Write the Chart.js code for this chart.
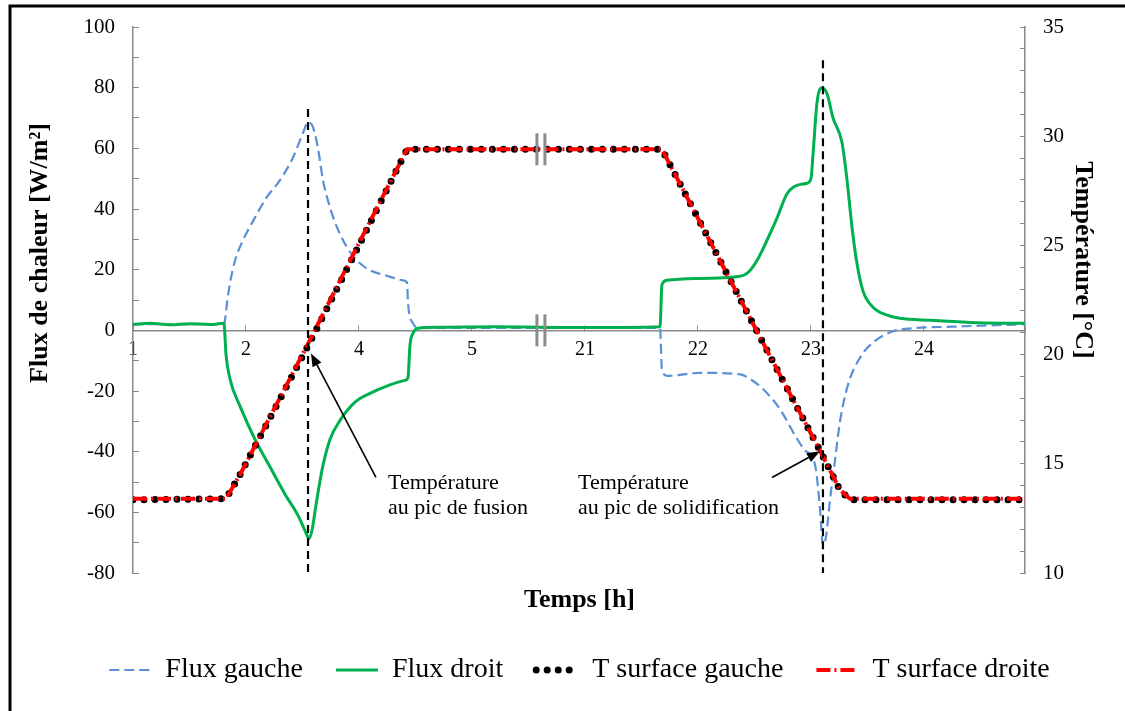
<!DOCTYPE html>
<html lang="fr">
<head>
    <meta charset="UTF-8">
    <title>Flux de chaleur et température de surface</title>
    <script src="https://cdn.jsdelivr.net/npm/chart.js"></script>
    <style>
        html, body { margin: 0; padding: 0; background: #fff; }
    </style>
</head>
<body>

    <canvas id="fluxChart" width="1125" height="711"></canvas>

    <script>
        // Time axis: evenly spaced positions, labelled in hours (break between 5 h and 21 h)
        const tickLabels = ['1', '2', '4', '5', '21', '22', '23', '24'];

        // Flux gauche [W/m2]
        const fluxGaucheT = [0, 0.416, 0.805, 0.814, 0.832, 0.858, 0.903, 0.973, 1.062, 1.186, 1.301, 1.416, 1.504, 1.549,
            1.593, 1.637, 1.681, 1.743, 1.805, 1.894, 1.982, 2.097, 2.248, 2.389, 2.425, 2.434, 2.478, 2.522, 2.805,
            4.664, 4.681, 4.726, 5.018, 5.372, 5.460, 5.593, 5.726, 5.858, 5.947, 6.009, 6.044, 6.080, 6.106, 6.133,
            6.168, 6.212, 6.257, 6.327, 6.434, 6.549, 6.726, 6.903, 7.257, 7.558, 7.894];
        const fluxGaucheV = [2, 2, 2, 3.3, 9, 15.5, 23, 29.7, 36, 44, 49.5, 57, 65, 68.6,
            67, 60, 49.5, 40.6, 34, 27.4, 23, 19.8, 18, 16.5, 15.8, 9, 2.3, 1, 0.8,
            0.8, -13, -15, -14, -14.5, -16, -20, -26, -34.6, -39.6, -41.5, -46, -59, -71, -68,
            -56, -43, -30, -18, -9, -4, -0.3, 0.7, 1.2, 1.6, 2];

        // Flux droit [W/m2]
        const fluxDroitT = [0, 0.150, 0.327, 0.504, 0.681, 0.805, 0.823, 0.858, 0.947, 1.080, 1.212, 1.345, 1.460, 1.522,
            1.558, 1.584, 1.619, 1.673, 1.743, 1.832, 1.965, 2.097, 2.274, 2.407, 2.434, 2.451, 2.478, 2.522, 2.717,
            3.2, 4.0, 4.664, 4.681, 4.726, 5.018, 5.372, 5.442, 5.522, 5.611, 5.699, 5.788, 5.876, 5.965, 6.000,
            6.018, 6.053, 6.097, 6.142, 6.195, 6.274, 6.319, 6.363, 6.407, 6.460, 6.549, 6.673, 6.788, 7.053, 7.407, 7.894];
        const fluxDroitV = [2, 2.3, 1.8, 2.2, 1.9, 2.3, -8, -16, -25, -36, -45, -54, -61, -66,
            -68.6, -66, -57.7, -46, -36, -29.7, -23.7, -20.8, -18, -16.5, -15.5, -5, -1, 0.7, 1,
            1.2, 0.9, 1.2, 15, 16.5, 17.1, 17.8, 19, 23, 29.7, 37, 45, 47.8, 48.5, 50,
            58, 75, 80, 78, 70, 62, 49.5, 34, 22, 13, 7.6, 5, 4, 3.3, 2.6, 2.3];

        // Surface temperatures [°C]
        const surfaceT = [0, 0.823, 0.947, 1.549, 2.009, 2.425, 4.681, 5.549, 6.080, 6.257, 6.345, 7.894];
        const surfaceGaucheV = [13.35, 13.4, 14.5, 20.4, 25.1, 29.4, 29.4, 20.8, 15.6, 13.8, 13.35, 13.35];
        const surfaceDroiteV = [13.4, 13.4, 14.5, 20.5, 25.2, 29.4, 29.4, 20.8, 15.6, 13.8, 13.4, 13.4];

        // Peak markers (position on time axis, top of the dashed line in W/m2)
        const peakPos = [1.549, 6.106];
        const peakTop = [73, 89];

        const serif = "'Liberation Serif', 'Times New Roman', serif";
        const axisGrey = '#8a8a8a';

        function toPoints(xs, ys) {
            return xs.map((x, i) => ({x: x, y: ys[i]}));
        }

        // keep the plot area where the layout puts it: no extra room for the end labels
        function fixWidth(w) {
            return function (scale) {
                scale.width = w;
                scale.paddingTop = 0;
                scale.paddingBottom = 0;
            };
        }

        const annotations = {
            id: 'annotations',
            beforeDraw(chart) {
                const ctx = chart.ctx;
                ctx.save();
                ctx.strokeStyle = '#000';
                ctx.lineWidth = 3;
                ctx.beginPath();
                ctx.moveTo(10, 711);
                ctx.lineTo(10, 6);
                ctx.lineTo(1125, 6);
                ctx.stroke();
                ctx.restore();
            },
            afterDatasetsDraw(chart) {
                const {ctx, chartArea, scales: {x, y, y2}} = chart;
                ctx.save();

                // dashed lines through the melting / solidification peaks
                ctx.strokeStyle = '#000';
                ctx.lineWidth = 2.2;
                ctx.setLineDash([8, 5]);
                peakPos.forEach((p, i) => {
                    const px = x.getPixelForValue(p);
                    ctx.beginPath();
                    ctx.moveTo(px, y.getPixelForValue(peakTop[i]));
                    ctx.lineTo(px, y.getPixelForValue(-80));
                    ctx.stroke();
                });
                ctx.setLineDash([]);

                // axis break marks
                const bx = x.getPixelForValue(3.61);
                ctx.strokeStyle = '#8c8c8c';
                ctx.lineWidth = 3;
                [y2.getPixelForValue(29.4), y.getPixelForValue(0)].forEach(by => {
                    [-4, 4].forEach(dx => {
                        ctx.beginPath();
                        ctx.moveTo(bx + dx, by - 16);
                        ctx.lineTo(bx + dx, by + 16);
                        ctx.stroke();
                    });
                });

                // y axis titles
                const midY = (chartArea.top + chartArea.bottom) / 2;
                ctx.fillStyle = '#000';
                ctx.font = 'bold 26px ' + serif;
                ctx.textAlign = 'center';
                ctx.textBaseline = 'middle';
                ctx.save();
                ctx.translate(chartArea.left - 93, midY - 47);
                ctx.rotate(-Math.PI / 2);
                ctx.fillText('Flux de chaleur [W/m²]', 0, 0);
                ctx.restore();
                ctx.save();
                ctx.translate(chartArea.right + 58, midY - 40);
                ctx.rotate(Math.PI / 2);
                ctx.fillText('Température [°C]', 0, 0);
                ctx.restore();

                // notes with arrows
                const notes = [
                    {lines: ['Température', 'au pic de fusion'], at: [2.257, -50.5], tail: [2.150, -48.5], tip: [1.575, -7.6]},
                    {lines: ['Température', 'au pic de solidification'], at: [3.938, -50.5], tail: [5.655, -48.5], tip: [6.080, -39.9]}
                ];
                ctx.strokeStyle = '#000';
                ctx.lineWidth = 1.6;
                ctx.font = '22px ' + serif;
                ctx.textAlign = 'left';
                notes.forEach(n => {
                    const tx = x.getPixelForValue(n.at[0]);
                    const ty = y.getPixelForValue(n.at[1]);
                    n.lines.forEach((line, k) => ctx.fillText(line, tx, ty + k * 25));

                    const x0 = x.getPixelForValue(n.tail[0]), y0 = y.getPixelForValue(n.tail[1]);
                    const x1 = x.getPixelForValue(n.tip[0]), y1 = y.getPixelForValue(n.tip[1]);
                    const a = Math.atan2(y1 - y0, x1 - x0);
                    const len = 13, half = 5;
                    const bxh = x1 - len * Math.cos(a), byh = y1 - len * Math.sin(a);
                    ctx.beginPath();
                    ctx.moveTo(x0, y0);
                    ctx.lineTo(bxh, byh);
                    ctx.stroke();
                    ctx.beginPath();
                    ctx.moveTo(x1, y1);
                    ctx.lineTo(bxh + half * Math.sin(a), byh - half * Math.cos(a));
                    ctx.lineTo(bxh - half * Math.sin(a), byh + half * Math.cos(a));
                    ctx.closePath();
                    ctx.fill();
                });
                ctx.restore();
            }
        };

        const ctx = document.getElementById('fluxChart').getContext('2d');
        new Chart(ctx, {
            type: 'line',
            data: {
                datasets: [{
                    label: 'Flux gauche',
                    data: toPoints(fluxGaucheT, fluxGaucheV),
                    yAxisID: 'y',
                    borderColor: '#5b8fd6',
                    borderWidth: 2.2,
                    borderDash: [10, 5],
                    cubicInterpolationMode: 'monotone',
                    order: 3
                }, {
                    label: 'Flux droit',
                    data: toPoints(fluxDroitT, fluxDroitV),
                    yAxisID: 'y',
                    borderColor: '#00b050',
                    borderWidth: 3,
                    cubicInterpolationMode: 'monotone',
                    order: 2
                }, {
                    label: 'T surface gauche',
                    data: toPoints(surfaceT, surfaceGaucheV),
                    yAxisID: 'y2',
                    borderColor: '#000',
                    borderWidth: 7,
                    borderDash: [0, 11],
                    borderCapStyle: 'round',
                    order: 1
                }, {
                    label: 'T surface droite',
                    data: toPoints(surfaceT, surfaceDroiteV),
                    yAxisID: 'y2',
                    borderColor: '#ff0000',
                    borderWidth: 4,
                    borderDash: [14, 4, 2, 4],
                    order: 0
                }]
            },
            options: {
                responsive: false,
                animation: false,
                devicePixelRatio: 1,
                elements: { point: { radius: 0, hoverRadius: 0 } },
                layout: { padding: { left: 34, right: 0, top: 27, bottom: 17 } },
                plugins: {
                    tooltip: { enabled: false },
                    title: {
                        display: true,
                        text: 'Temps [h]',
                        position: 'bottom',
                        weight: 500,
                        color: '#000',
                        font: { family: serif, size: 26, weight: 'bold' },
                        padding: { top: 11.4, bottom: 7.4 }
                    },
                    legend: {
                        position: 'bottom',
                        labels: {
                            usePointStyle: true,
                            pointStyleWidth: 42,
                            padding: 33,
                            color: '#000',
                            font: { family: serif, size: 28 },
                            generateLabels(chart) {
                                return chart.data.datasets.map((ds, i) => ({
                                    text: ds.label,
                                    datasetIndex: i,
                                    pointStyle: 'line',
                                    strokeStyle: ds.borderColor,
                                    fillStyle: ds.borderColor,
                                    lineWidth: ds.borderWidth,
                                    lineDash: ds.borderDash || [],
                                    lineCap: ds.borderCapStyle || 'butt',
                                    hidden: false
                                }));
                            }
                        }
                    }
                },
                scales: {
                    x: {
                        type: 'linear',
                        min: 0,
                        max: 7.894,
                        position: { y: 0 },
                        border: { color: axisGrey, width: 1.5 },
                        grid: { drawOnChartArea: false, drawTicks: true, tickLength: -6, color: axisGrey },
                        ticks: {
                            stepSize: 1,
                            autoSkip: false,
                            maxRotation: 0,
                            padding: 13,
                            color: '#000',
                            font: { family: serif, size: 20 },
                            callback: v => tickLabels[Math.round(v)] !== undefined && Math.abs(v - Math.round(v)) < 1e-6 ? tickLabels[Math.round(v)] : ''
                        }
                    },
                    y: {
                        position: 'left',
                        min: -80,
                        max: 100,
                        border: { color: axisGrey, width: 1.5 },
                        grid: { drawOnChartArea: false, tickLength: -6, color: axisGrey },
                        ticks: {
                            stepSize: 10,
                            autoSkip: false,
                            padding: 24,
                            color: '#000',
                            font: { family: serif, size: 21 },
                            callback: v => (v % 20 === 0 ? v : '')
                        },
                        afterFit: fixWidth(99)
                    },
                    y2: {
                        position: 'right',
                        min: 10,
                        max: 35,
                        border: { color: axisGrey, width: 1.5 },
                        grid: { drawOnChartArea: false, tickLength: -5, color: axisGrey },
                        ticks: {
                            stepSize: 1,
                            autoSkip: false,
                            padding: 23,
                            color: '#000',
                            font: { family: serif, size: 21 },
                            callback: v => (v % 5 === 0 ? v : '')
                        },
                        afterFit: fixWidth(100)
                    }
                }
            },
            plugins: [annotations]
        });
    </script>

</body>
</html>
